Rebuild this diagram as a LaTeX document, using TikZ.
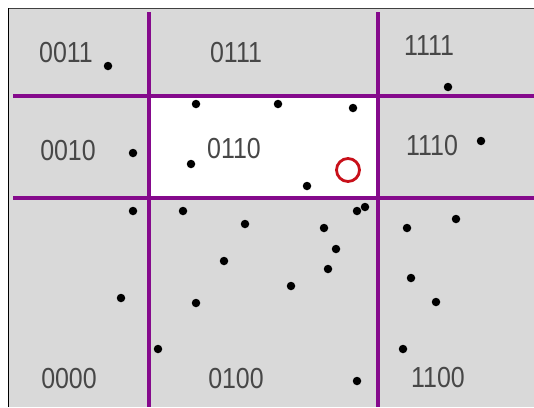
\documentclass[tikz,border=0pt]{standalone}
\usepackage{fontspec}
\setmainfont{Liberation Sans}
\usepackage{xcolor}
\usepackage{tikz}
\definecolor{cellgray}{HTML}{D9D9D9}
\definecolor{splitpurple}{HTML}{850A8C}
\definecolor{querred}{HTML}{C8101A}
\newcommand{\codetxt}[1]{\scalebox{0.86}[1]{#1}}

\begin{document}
\begin{tikzpicture}[
      x=1pt, y=-1pt,
      font=\fontsize{29}{29}\selectfont,
      split/.style={draw=splitpurple, line width=3.2pt},
      code/.style={inner sep=0pt, text=black!72},
      sample/.style={circle, fill=black, inner sep=0pt, minimum size=8.5pt},
      query/.style={circle, draw=querred, line width=2.8pt, inner sep=0pt, minimum size=23pt}
    ]
      \useasboundingbox (0,0) rectangle (534,407);
      % background and frame
      \fill[white] (0,0) rectangle (534,407);
      \fill[cellgray] (8,8) rectangle (534,407);
      \fill[white] (149,96) rectangle (378,198);
      \draw[black!75, line width=1.6pt] (8,8.5) -- (534,8.5);
      \draw[black, line width=1pt] (8.5,8) -- (8.5,407);
      % partition lines
      \draw[split] (149,12) -- (149,407);
      \draw[split] (378,12) -- (378,407);
      \draw[split] (13,96) -- (534,96);
      \draw[split] (13,198) -- (534,198);
      % cell codes
      \node[code] (c0011) at (66,53) {\codetxt{0011}};
      \node[code] (c0111) at (236,53) {\codetxt{0111}};
      \node[code] (c1111) at (429,46) {\codetxt{1111}};
      \node[code] (c0010) at (68,151) {\codetxt{0010}};
      \node[code] (c0110) at (234,149) {\codetxt{0110}};
      \node[code] (c1110) at (432,146) {\codetxt{1110}};
      \node[code] (c0000) at (69,379) {\codetxt{0000}};
      \node[code] (c0100) at (236,379) {\codetxt{0100}};
      \node[code] (c1100) at (438,378) {\codetxt{1100}};
      % data points
      \foreach \px/\py [count=\i] in {108/66, 196/104, 278/104, 353/108, 448/87,
          133/153, 191/164, 481/141, 307/186,
          133/211, 183/211, 245/224, 224/261, 121/298, 196/303, 158/349,
          365/207, 357/211, 324/228, 336/249, 328/269, 291/286, 357/381,
          407/228, 456/219, 411/278, 436/302, 403/349}
        \node[sample] (p\i) at (\px,\py) {};
      % query point
      \node[query] (q) at (348,170) {};
    \end{tikzpicture}
\end{document}
